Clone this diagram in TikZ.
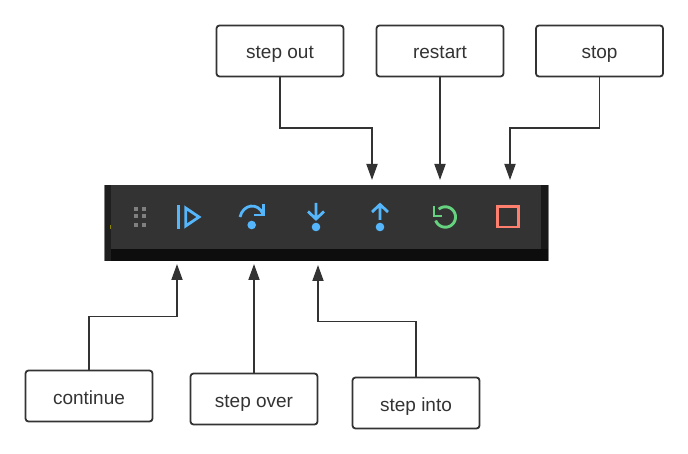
\documentclass[tikz,border=0pt]{standalone}
\usepackage{fontspec}
\setmainfont{Liberation Sans}
\usetikzlibrary{arrows.meta}
\definecolor{barblue}{HTML}{55B6FB}
\definecolor{bargreen}{HTML}{66D17F}
\definecolor{barred}{HTML}{FF7F6E}
\definecolor{inkdark}{HTML}{333333}
\tikzset{
	callout/.style={draw=inkdark,line width=1.8pt,rounded corners=3pt,minimum width=127pt,minimum height=51pt,inner sep=0pt,text=inkdark,text height=19pt,text depth=3pt,font=\fontsize{19pt}{20pt}\selectfont},
	pointer/.style={draw=inkdark,line width=1.8pt,-{Stealth[length=16pt,width=11pt,inset=0pt]}},
	iconline/.style={barblue,line width=2.8pt},
}
\begin{document}
\begin{tikzpicture}[x=1pt,y=-1pt]
		\useasboundingbox (0,0) rectangle (688,454);
		% toolbar
		\fill[black!95] (104,185) rectangle (549,261);
		\fill[black!88] (104,185) rectangle (111,261);
		\fill[black!90] (541,185) rectangle (548,249);
		\fill[gray] (103.5,185) rectangle (104.6,261);
		\fill[gray] (548,185) rectangle (549,261);
		\fill[olive] (109.5,225.5) rectangle (111,229);
		\fill[inkdark] (111,185) rectangle (541,249);
		\foreach \x in {136,144}{
			\foreach \y in {209,216.5,224.7}{
				\fill[gray] (\x-2,\y-2) rectangle (\x+2,\y+2);
			}
		}
		% continue
		\fill[barblue] (176.7,205) rectangle (180,229);
		\draw[iconline,miter limit=10] (185.7,208) -- (199,217) -- (185.7,226) -- cycle;
		% step over
		\draw[iconline] (240,217) .. controls (243,204) and (258,202) .. (263,214);
		\draw[iconline] (263.5,204.5) -- (263.5,215) -- (254,215);
		\fill[barblue] (251.7,225) circle (4.3pt);
		% step into
		\draw[iconline] (316,203) -- (316,218) (308,211.5) -- (316,219) -- (324,211.5);
		\fill[barblue] (316,227) circle (4.3pt);
		% step out
		\draw[iconline] (380,205) -- (380,220) (372,212) -- (380,204.5) -- (388,212);
		\fill[barblue] (380,227) circle (4.3pt);
		% restart
		\draw[bargreen,line width=2.9pt] plot[domain=-130:160,samples=40,smooth] ({445.3+10.2*cos(\x)},{217+10.2*sin(\x)});
		\draw[bargreen,line width=2.7pt] (434,206.5) -- (434,216) -- (442,216);
		% stop
		\draw[barred,line width=2.8pt] (497.3,206.3) rectangle (518.8,227);
		% boxes
		\node[callout] (stepout) at (280,51) {step out};
		\node[callout] (restart) at (440,51) {restart};
		\node[callout] (stop) at (599.5,51) {stop};
		\node[callout] (continue) at (89,396) {continue};
		\node[callout] (stepover) at (254,399) {step over};
		\node[callout] (stepinto) at (416,403) {step into};
		% arrow targets
		\foreach \n/\x/\y in {tout/372/180,trestart/440/180,tstop/510/180,tcontinue/177/264,tover/254/264,tinto/318/265}{
			\coordinate (\n) at (\x,\y);
		}
		\draw[pointer] (stepout.south) -- ++(0,51) -| (tout);
		\draw[pointer] (restart.south) -- (trestart);
		\draw[pointer] (stop.south) -- ++(0,51) -| (tstop);
		\draw[pointer] (continue.north) -- ++(0,-53) -| (tcontinue);
		\draw[pointer] (stepover.north) -- (tover);
		\draw[pointer] (stepinto.north) -- ++(0,-55) -| (tinto);
	\end{tikzpicture}
\end{document}
